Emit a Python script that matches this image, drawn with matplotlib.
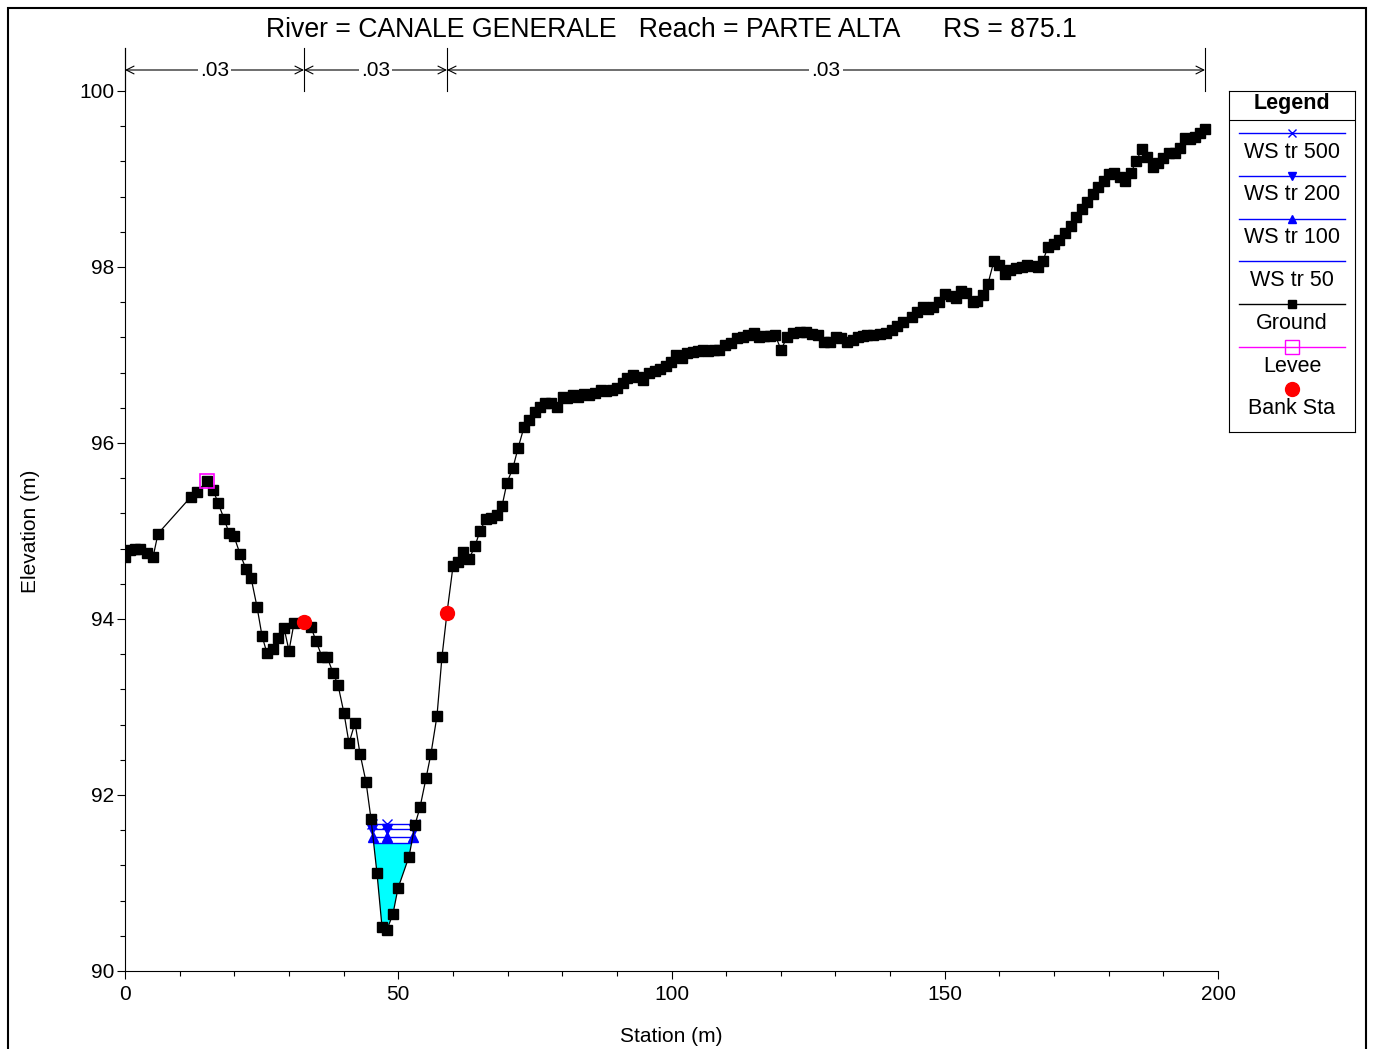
import numpy as np
import matplotlib.pyplot as plt
from matplotlib.patches import Rectangle

plt.rcParams['font.family'] = ['Liberation Sans', 'DejaVu Sans']

# ground profile (station m, elevation m)
station = [0.00, 0.91, 1.83, 2.74, 4.03, 5.12, 6.04, 12.08, 13.17, 15.00,
           16.10, 17.02, 18.12, 19.03, 19.95, 21.04, 22.14, 23.06, 24.15, 25.07,
           25.98, 27.08, 28.00, 29.09, 30.01, 30.92, 32.75, 34.03, 34.95, 36.05,
           36.96, 38.06, 38.98, 40.07, 40.99, 42.09, 43.00, 44.10, 45.01, 46.11,
           47.03, 47.94, 49.04, 49.95, 51.97, 53.06, 53.98, 55.08, 55.99, 57.09,
           58.00, 58.92, 60.02, 60.93, 61.85, 62.95, 64.04, 64.96, 66.06, 66.97,
           68.07, 68.98, 69.90, 71.00, 71.91, 73.01, 73.92, 75.02, 75.94, 76.85,
           77.95, 79.05, 80.15, 80.88, 81.98, 82.89, 83.99, 84.90, 86.00, 87.10,
           88.01, 89.11, 90.03, 91.13, 91.86, 92.95, 93.87, 94.78, 95.88, 96.98,
           97.89, 98.99, 99.91, 100.82, 101.92, 102.84, 103.93, 104.85, 105.76, 106.68,
           107.78, 108.69, 109.79, 110.89, 111.99, 113.08, 114.00, 115.10, 116.01, 116.93,
           118.02, 118.94, 120.04, 121.13, 122.23, 123.51, 124.61, 125.71, 126.81, 127.90,
           129.00, 130.10, 131.02, 132.11, 133.21, 134.13, 135.04, 135.77, 136.87, 138.15,
           139.25, 140.35, 141.26, 142.36, 144.01, 144.92, 146.02, 146.93, 147.85, 148.95,
           150.05, 151.14, 152.06, 152.97, 153.89, 155.17, 155.90, 157.00, 157.91, 159.01,
           159.93, 161.02, 161.94, 163.04, 164.14, 165.05, 166.15, 167.06, 167.98, 168.89,
           169.99, 170.91, 172.00, 173.10, 174.02, 175.11, 176.03, 177.13, 178.04, 179.14,
           180.05, 180.97, 182.07, 182.98, 184.08, 184.99, 186.09, 187.01, 188.10, 189.02,
           189.94, 191.03, 192.13, 193.05, 193.96, 194.88, 195.79, 196.71, 197.62]
elevation = [94.70, 94.78, 94.80, 94.80, 94.75, 94.70, 94.97, 95.39, 95.44, 95.57,
             95.47, 95.32, 95.14, 94.98, 94.94, 94.74, 94.57, 94.47, 94.14, 93.81,
             93.61, 93.66, 93.78, 93.90, 93.64, 93.95, 93.97, 93.91, 93.75, 93.57,
             93.57, 93.39, 93.25, 92.93, 92.59, 92.82, 92.47, 92.15, 91.73, 91.11,
             90.50, 90.47, 90.65, 90.94, 91.30, 91.66, 91.86, 92.19, 92.47, 92.90,
             93.57, 94.07, 94.60, 94.65, 94.76, 94.68, 94.83, 95.00, 95.14, 95.15,
             95.18, 95.28, 95.55, 95.72, 95.94, 96.18, 96.26, 96.35, 96.41, 96.45,
             96.45, 96.41, 96.52, 96.51, 96.55, 96.52, 96.56, 96.55, 96.57, 96.60,
             96.59, 96.60, 96.63, 96.68, 96.74, 96.77, 96.75, 96.72, 96.80, 96.82,
             96.84, 96.88, 96.92, 97.00, 96.97, 97.02, 97.03, 97.05, 97.06, 97.05,
             97.06, 97.06, 97.11, 97.14, 97.19, 97.20, 97.23, 97.25, 97.20, 97.22,
             97.22, 97.23, 97.06, 97.20, 97.25, 97.26, 97.26, 97.24, 97.23, 97.15,
             97.15, 97.20, 97.19, 97.15, 97.17, 97.20, 97.22, 97.23, 97.23, 97.24,
             97.25, 97.28, 97.33, 97.38, 97.43, 97.49, 97.55, 97.52, 97.55, 97.60,
             97.69, 97.67, 97.65, 97.73, 97.70, 97.60, 97.61, 97.68, 97.81, 98.07,
             98.02, 97.92, 97.97, 97.99, 98.00, 98.02, 98.01, 98.00, 98.07, 98.23,
             98.26, 98.31, 98.39, 98.47, 98.57, 98.66, 98.74, 98.83, 98.91, 98.98,
             99.06, 99.07, 99.02, 98.98, 99.07, 99.20, 99.34, 99.25, 99.14, 99.18,
             99.24, 99.30, 99.30, 99.35, 99.47, 99.45, 99.48, 99.52, 99.57]

levee_sta = [15.00]
levee_elev = [95.57]
bank_sta = [32.75, 58.92]
bank_elev = [93.97, 94.07]

ws_names = ['WS tr 500', 'WS tr 200', 'WS tr 100', 'WS tr 50']
ws_elev = [91.67, 91.61, 91.52, 91.45]
ws_markers = ['x', 'v', '^', None]

n_bounds = [0.0, 32.75, 58.92, 197.62]
n_values = ['.03', '.03', '.03']

title = 'River = CANALE GENERALE   Reach = PARTE ALTA      RS = 875.1'

W, H = 1374, 1049
fig = plt.figure(figsize=(W / 100, H / 100), dpi=100)
fs = 15

sta = np.array(station)
elev = np.array(elevation)
imin = int(np.argmin(elev))


def ws_extent(ws):
    i = imin
    while elev[i - 1] < ws:
        i -= 1
    xl = np.interp(ws, [elev[i], elev[i - 1]], [sta[i], sta[i - 1]])
    j = imin
    while elev[j + 1] < ws:
        j += 1
    xr = np.interp(ws, [elev[j], elev[j + 1]], [sta[j], sta[j + 1]])
    return xl, xr, i, j


ax = fig.add_axes([125 / W, 1 - 971 / H, (1218 - 125) / W, (971 - 48) / H])
ax.set_xlim(0, 200)
ax.set_ylim(90, 90 + 923 / 88)

# water fill for lowest profile
xl, xr, i, j = ws_extent(ws_elev[-1])
fx = np.concatenate([[xl], sta[i:j + 1], [xr]])
fy = np.concatenate([[ws_elev[-1]], elev[i:j + 1], [ws_elev[-1]]])
ax.fill(fx, fy, color='#00ffff', lw=0, zorder=1)

blue = '#0000ff'
for ws, m in zip(ws_elev, ws_markers):
    xl, xr, i, j = ws_extent(ws)
    ax.plot([xl, xr], [ws, ws], color=blue, lw=1.0, zorder=2)
    if m:
        ax.plot([xl, sta[imin], xr], [ws] * 3, ls='none', marker=m, color=blue,
                ms=6.5, mew=1.0, zorder=2)

ax.plot(sta, elev, color='k', lw=0.9, marker='s', ms=6.5, zorder=3)
ax.plot(levee_sta, levee_elev, ls='none', marker='s', ms=10, mfc='none',
        mec='#ff00ff', mew=1.2, zorder=4)
ax.plot(bank_sta, bank_elev, ls='none', marker='o', ms=10, color='#ff0000', zorder=5)

for s in ['top', 'right']:
    ax.spines[s].set_visible(False)
ax.set_xticks(np.arange(0, 201, 50))
ax.set_xticks(np.arange(0, 201, 10), minor=True)
ax.set_yticks(np.arange(90, 101, 2))
ax.set_yticks(np.arange(90, 100.01, 0.4), minor=True)
ax.tick_params(which='major', length=6, width=0.8, labelsize=fs)
ax.tick_params(which='minor', length=3.5, width=0.8)
ax.tick_params(axis='y', pad=1.5)
ax.tick_params(axis='x', pad=4)

# manning's n brackets
trans = ax.get_xaxis_transform()
yb = (971 - 70) / 923
for b in n_bounds:
    ax.plot([b, b], [(971 - 91) / 923, 1.0], transform=trans, color='k', lw=0.8,
            clip_on=False)
for k, val in enumerate(n_values):
    x0, x1 = n_bounds[k], n_bounds[k + 1]
    ax.annotate('', xy=(x0, yb), xytext=(x1, yb), xycoords=trans,
                arrowprops=dict(arrowstyle='<->', lw=0.8, shrinkA=0, shrinkB=0,
                                mutation_scale=14, color='k'))
    ax.text((x0 + x1) / 2, yb, val, transform=trans, ha='center', va='center',
            fontsize=fs, bbox=dict(fc='white', ec='none', pad=1.5))

fig.text(671 / W, 1 - 30 / H, title, ha='center', va='center', fontsize=19.2)
fig.text(671 / W, 1 - 1036 / H, 'Station (m)', ha='center', va='center', fontsize=fs)
fig.text(30 / W, 1 - 531 / H, 'Elevation (m)', ha='center', va='center',
         rotation=90, fontsize=fs)

# legend box
lg = fig.add_axes([1229 / W, 1 - 432 / H, (1355 - 1229) / W, (432 - 91) / H])
lg.set_xlim(1229, 1355)
lg.set_ylim(432, 91)
lg.set_xticks([])
lg.set_yticks([])
for s in lg.spines.values():
    s.set_linewidth(0.8)
lfs = 15.5
lg.text(1292, 104, 'Legend', ha='center', va='center', fontsize=lfs, fontweight='bold')
lg.plot([1229, 1355], [120, 120], color='k', lw=0.8)
entries = [(n, blue, m, blue, blue) for n, m in zip(ws_names, ws_markers)]
entries += [('Ground', 'k', 's', 'k', 'k'), ('Levee', '#ff00ff', 's', 'none', '#ff00ff')]
ly = 133
for name, c, m, mfc, mec in entries:
    lg.plot([1239, 1345], [ly, ly], color=c, lw=1.0)
    if m:
        ms = 10 if name == 'Levee' else 6
        lg.plot([1292], [ly], marker=m, ms=ms, mfc=mfc, mec=mec, mew=1.0)
    lg.text(1292, ly + 19, name, ha='center', va='center', fontsize=lfs)
    ly += 42.8
lg.plot([1292], [389], marker='o', ms=10, color='#ff0000')
lg.text(1292, 408, 'Bank Sta', ha='center', va='center', fontsize=lfs)

fig.patches.append(Rectangle((8 / W, -0.02), (1366 - 8) / W, 1 - 8 / H + 0.02,
                             transform=fig.transFigure, fill=False, ec='k', lw=1.5))

fig.savefig('out.png', dpi=100)
